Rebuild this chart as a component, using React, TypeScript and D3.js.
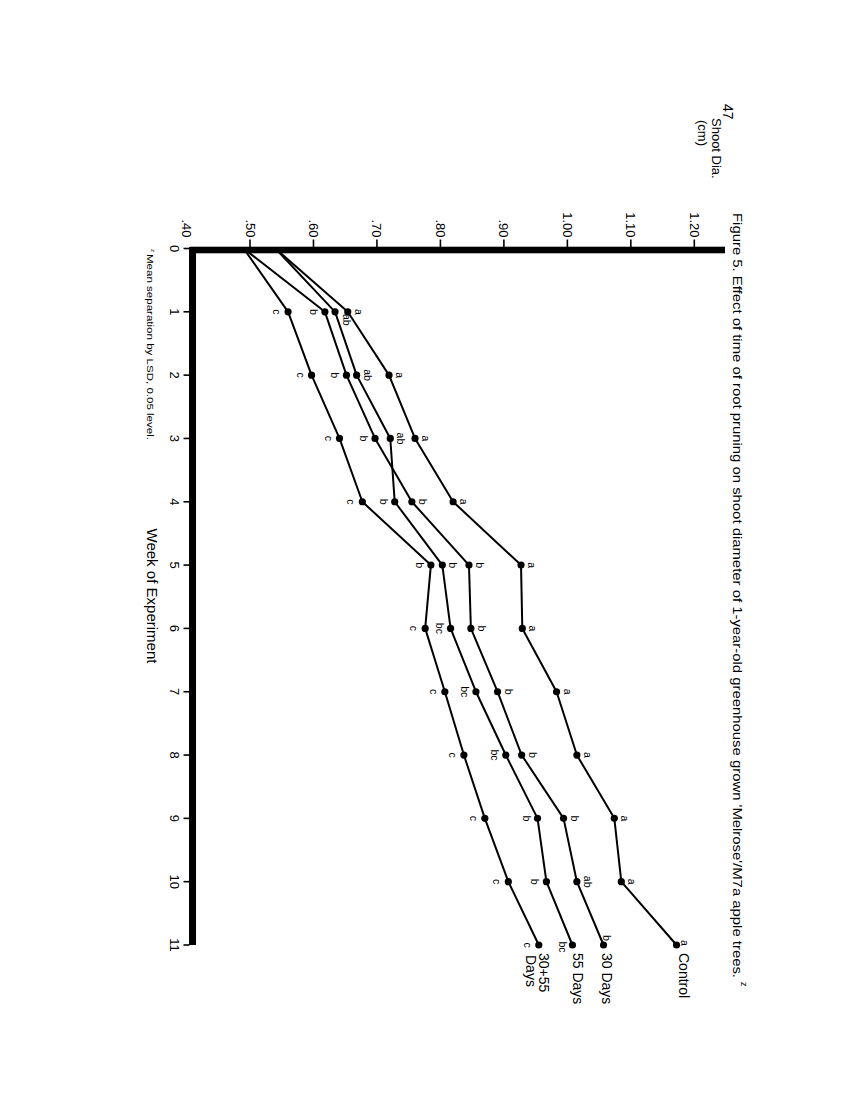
import React from 'react';
import * as d3 from 'd3';

// ---------- data ----------
const weeks = [0, 1, 2, 3, 4, 5, 6, 7, 8, 9, 10, 11];
const seriesNames = ['Control', '30 Days', '55 Days', '30+55 Days'];
const controlValues = [0.54, 0.654, 0.719, 0.76, 0.82, 0.927, 0.929, 0.983, 1.015, 1.074, 1.085, 1.172];
const days30Values = [0.49, 0.618, 0.652, 0.697, 0.755, 0.845, 0.848, 0.89, 0.928, 0.994, 1.015, 1.057];
const days55Values = [0.54, 0.634, 0.668, 0.721, 0.728, 0.803, 0.816, 0.856, 0.903, 0.953, 0.967, 1.008];
const days3055Values = [0.49, 0.56, 0.597, 0.641, 0.677, 0.785, 0.776, 0.807, 0.837, 0.87, 0.907, 0.955];

const controlLetters = ['', 'a', 'a', 'a', 'a', 'a', 'a', 'a', 'a', 'a', 'a', 'a'];
const days30Letters = ['', 'b', 'b', 'b', 'b', 'b', 'b', 'b', 'b', 'b', 'ab', 'b'];
const days55Letters = ['', 'ab', 'ab', 'ab', 'b', 'b', 'bc', 'bc', 'bc', 'b', 'b', 'bc'];
const days3055Letters = ['', 'c', 'c', 'c', 'c', 'b', 'c', 'c', 'c', 'c', 'c', 'c'];

// side of each letter relative to its point (r = higher value side, l = lower, br = below-right, e = end)
const controlSides = ['', 'r', 'r', 'r', 'r', 'r', 'r', 'r', 'r', 'r', 'r', 'e'];
const days30Sides = ['', 'l', 'l', 'l', 'r', 'r', 'r', 'r', 'r', 'r', 'r', 'e2'];
const days55Sides = ['', 'br', 'r', 'r', 'l', 'r', 'l', 'l', 'l', 'l', 'l', 'el'];
const days3055Sides = ['', 'l', 'l', 'l', 'l', 'l', 'l', 'l', 'l', 'l', 'l', 'l'];

const valueTicks = [0.4, 0.5, 0.6, 0.7, 0.8, 0.9, 1.0, 1.1, 1.2];
const valueTickLabels = ['.40', '.50', '.60', '.70', '.80', '.90', '1.00', '1.10', '1.20'];
const weekTickLabels = ['0', '1', '2', '3', '4', '5', '6', '7', '8', '9', '10', '11'];

const titleText = "Figure 5. Effect of time of root pruning on shoot diameter of 1-year-old greenhouse grown 'Melrose'/M7a apple trees.";
const footnoteText = 'Mean separation by LSD, 0.05 level.';

const FONT = "'Liberation Sans', Arial, Helvetica, sans-serif";

const series = [
  { name: seriesNames[0], values: controlValues, letters: controlLetters, sides: controlSides },
  { name: seriesNames[1], values: days30Values, letters: days30Letters, sides: days30Sides },
  { name: seriesNames[2], values: days55Values, letters: days55Letters, sides: days55Sides },
  { name: seriesNames[3], values: days3055Values, letters: days3055Letters, sides: days3055Sides },
];

// chart frame (landscape); rotated 90deg clockwise onto the page
const x = d3.scaleLinear().domain([0, 11]).range([248.5, 945]);
const y = d3.scaleLinear().domain([0.5, 1.2]).range([600, 155.7]);

const sideOffset = (s: string): [number, number] => {
  switch (s) {
    case 'r': return [0, -11];
    case 'l': return [0, 11];
    case 'br': return [8, -12];
    case 'e': return [-2, -8];
    case 'e2': return [-7, -3];
    case 'el': return [2, 9];
    default: return [0, 0];
  }
};

export default function App() {
  const line = d3.line<number>().x((_, i) => x(weeks[i])).y((v) => y(v));
  const axisY = y(0.4); // baseline of value axis in chart frame

  return (
    <svg width={850} height={1100} style={{ position: 'absolute', left: 0, top: 0, background: '#fff' }}
      fontFamily={FONT}>
      <rect x={0} y={0} width={850} height={1100} fill="#fff" />
      <g transform="translate(850,0) rotate(90)">
        {/* page number and axis label */}
        <text x={104} y={122} fontSize={14} dominantBaseline="central">47</text>
        <text x={118} y={134} fontSize={13} dominantBaseline="central">Shoot Dia.</text>
        <text x={120} y={148} fontSize={13} dominantBaseline="central">(cm)</text>

        {/* title */}
        <text x={213} y={113} fontSize={13} dominantBaseline="central" textLength={765} lengthAdjust="spacingAndGlyphs">{titleText}</text>
        <text x={982} y={106} fontSize={9} dominantBaseline="central">z</text>

        {/* value axis (thick bar) */}
        <rect x={x(0) - 1.8} y={y(1.2) - 30.7} width={6.6} height={axisY - 3.5 - (y(1.2) - 30.7)} fill="#000" />
        {valueTicks.map((v, i) => (
          <g key={'vt' + i}>
            {i > 0 && <line x1={x(0) - 9} x2={x(0)} y1={y(v)} y2={y(v)} stroke="#000" strokeWidth={1.6} />}
            <text x={x(0) - 11} y={y(v)} fontSize={13} textAnchor="end" dominantBaseline="central">{valueTickLabels[i]}</text>
          </g>
        ))}

        {/* week axis (thick bar) */}
        <rect x={x(0) - 1.5} y={axisY - 9.5} width={x(11) - x(0) + 1.5} height={7} fill="#000" />
        {weeks.map((w, i) => (
          <g key={'wt' + i}>
            <line x1={x(w)} x2={x(w)} y1={axisY - 3} y2={axisY + 3} stroke="#000" strokeWidth={1.6} />
            <text x={x(w)} y={axisY + 12} fontSize={13} textAnchor="middle" dominantBaseline="central">{weekTickLabels[i]}</text>
          </g>
        ))}
        <text x={596} y={698} fontSize={14} textAnchor="middle" dominantBaseline="central" textLength={135} lengthAdjust="spacingAndGlyphs">Week of Experiment</text>

        {/* footnote */}
        <text x={249} y={697} fontSize={6} dominantBaseline="central">z</text>
        <text x={254} y={700} fontSize={9} dominantBaseline="central" textLength={186} lengthAdjust="spacingAndGlyphs">{footnoteText}</text>

        {/* lines and points */}
        {series.map((s) => (
          <g key={s.name}>
            <path d={line(s.values) || ''} fill="none" stroke="#000" strokeWidth={2} strokeLinejoin="round" />
            {s.values.map((v, i) => i > 0 ? (
              <circle key={i} cx={x(weeks[i])} cy={y(v)} r={3.6} fill="#000" />
            ) : null)}
            {s.letters.map((l, i) => {
              if (!l) return null;
              const [dx, dy] = sideOffset(s.sides[i]);
              return (
                <text key={'l' + i} x={x(weeks[i]) + dx} y={y(s.values[i]) + dy} fontSize={10.5}
                  textAnchor="middle" dominantBaseline="central">{l}</text>
              );
            })}
          </g>
        ))}

        {/* end labels */}
        <text x={x(11) + 8} y={y(controlValues[11]) - 7} fontSize={14} dominantBaseline="central">{seriesNames[0]}</text>
        <text x={x(11) + 8} y={y(days30Values[11]) - 3} fontSize={14} dominantBaseline="central">{seriesNames[1]}</text>
        <text x={x(11) + 8} y={y(days55Values[11]) - 6} fontSize={14} dominantBaseline="central">{seriesNames[2]}</text>
        <text x={x(11) + 8} y={y(days3055Values[11]) - 5} fontSize={14} dominantBaseline="central">30+55</text>
        <text x={x(11) + 10} y={y(days3055Values[11]) + 8} fontSize={14} dominantBaseline="central">Days</text>
      </g>
    </svg>
  );
}
